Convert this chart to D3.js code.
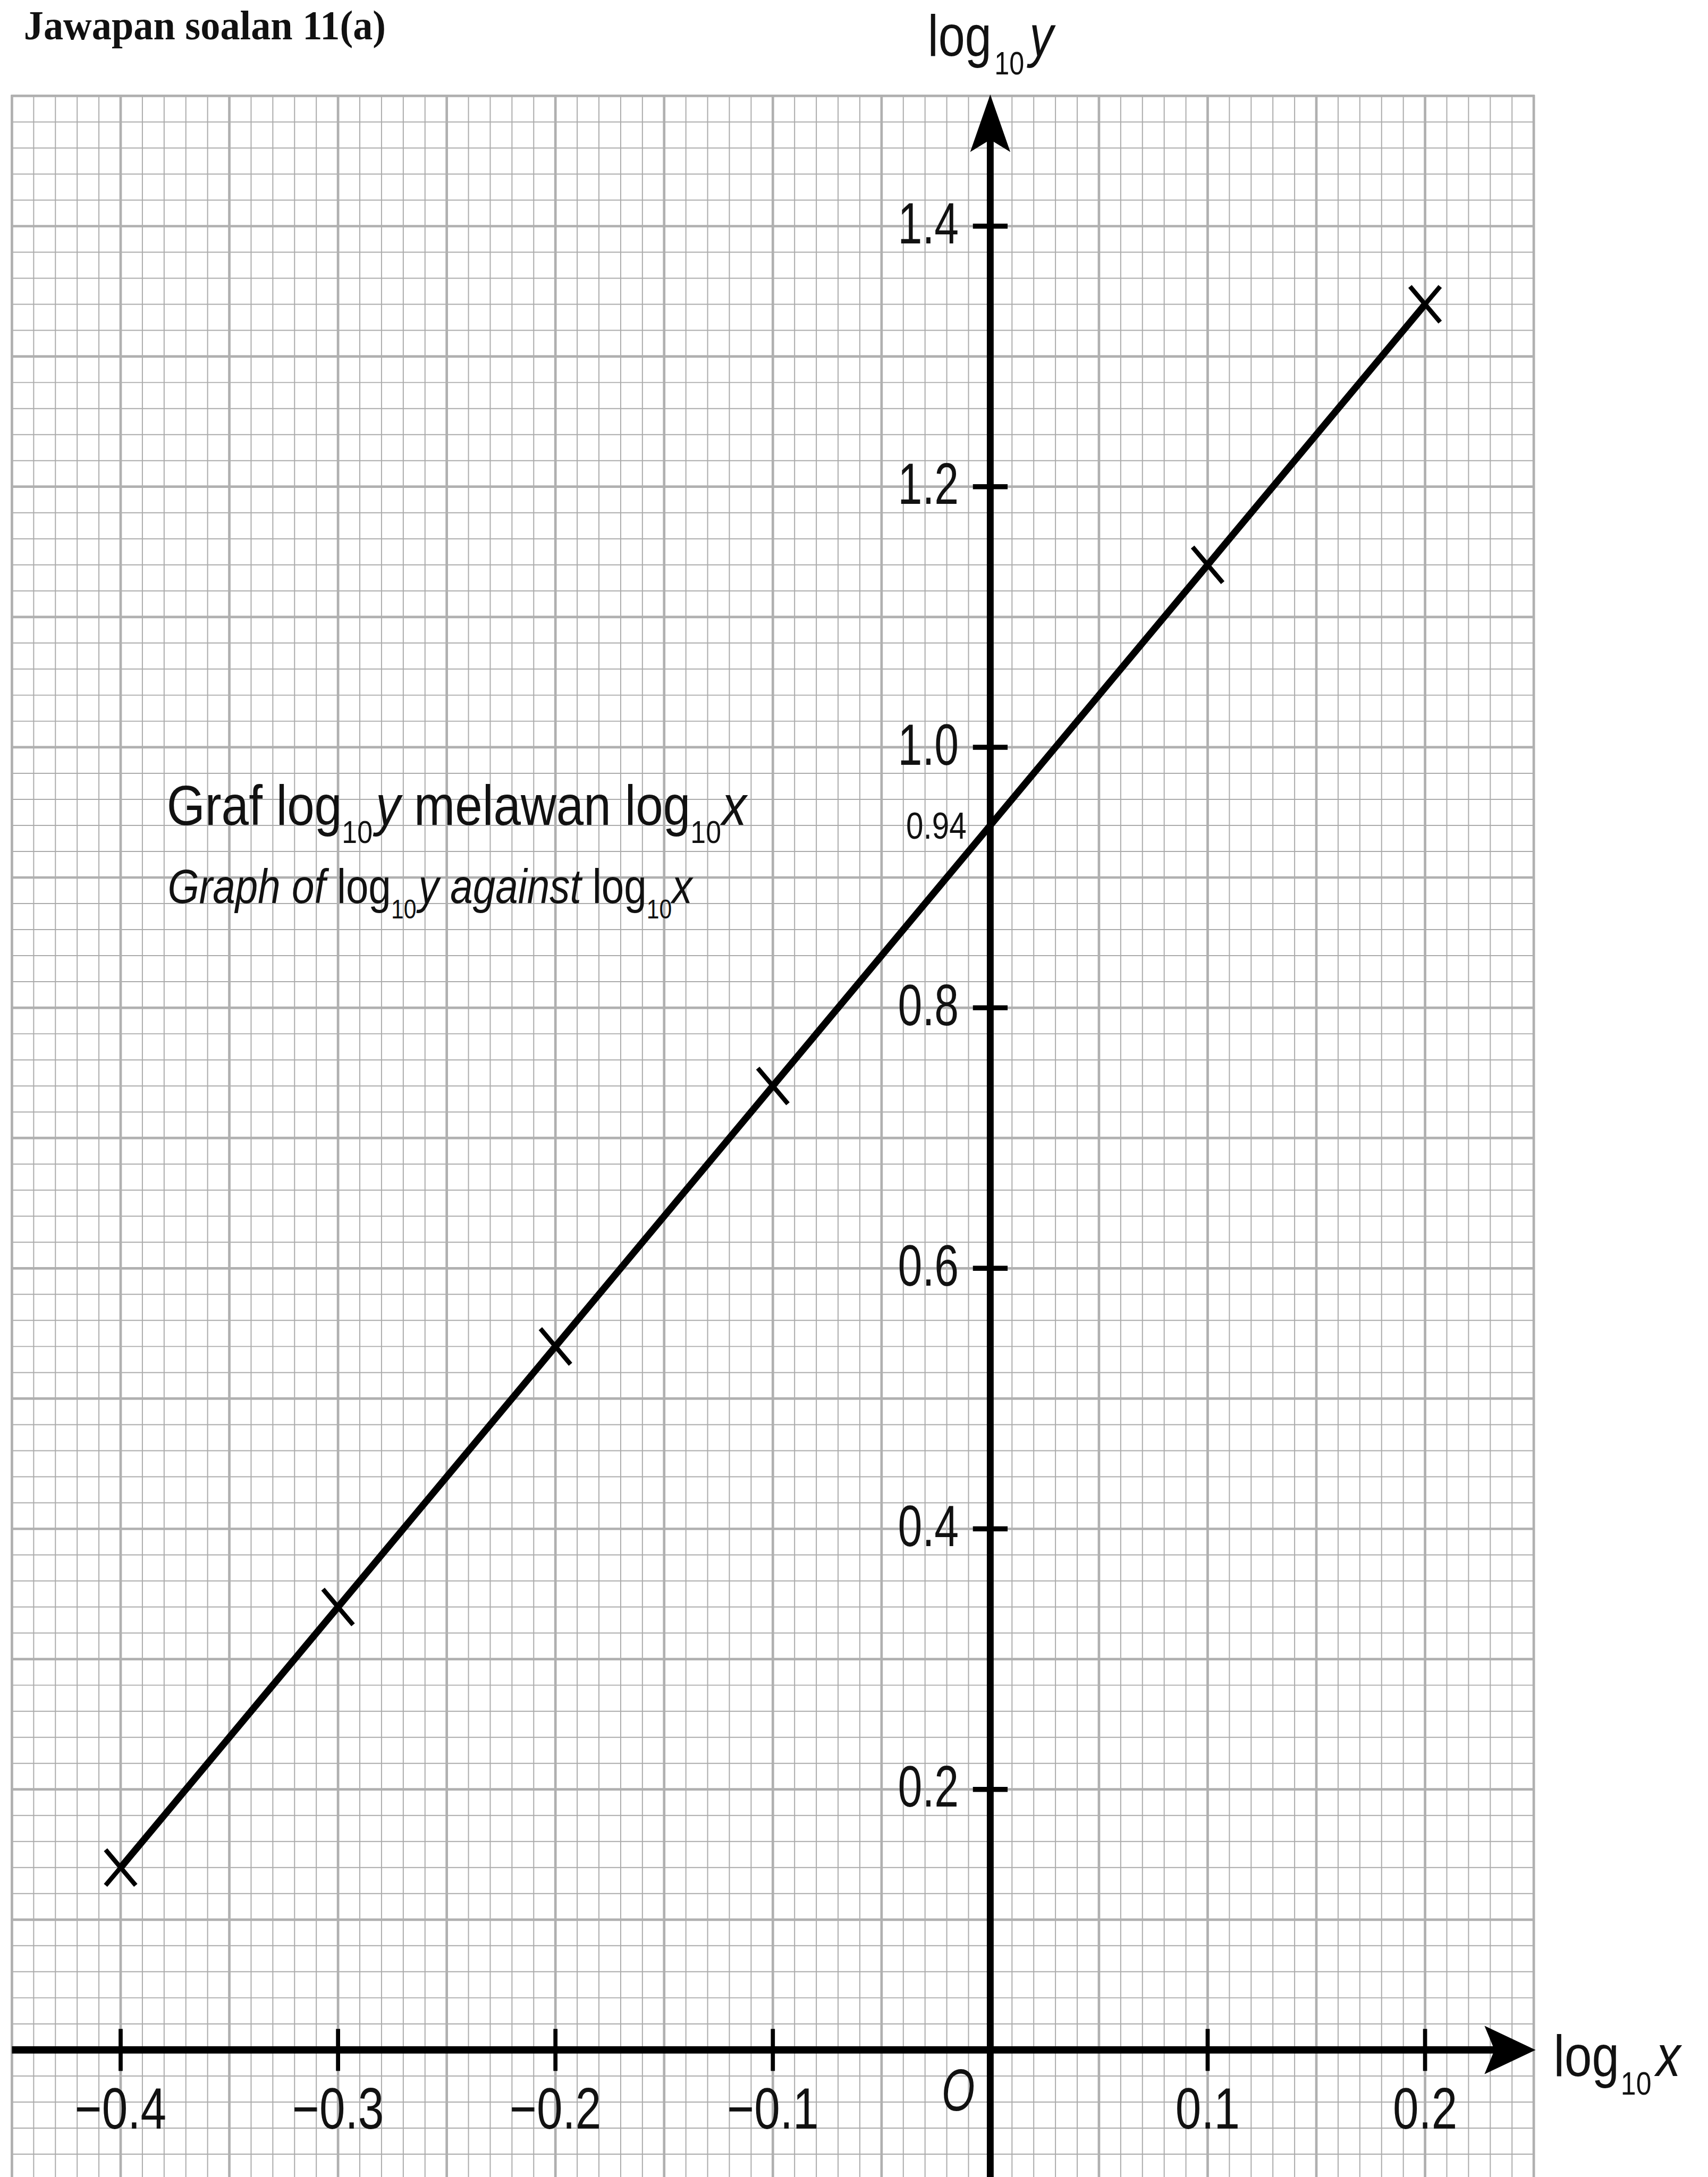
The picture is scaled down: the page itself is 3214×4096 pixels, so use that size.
<!DOCTYPE html>
<html>
<head>
<meta charset="utf-8">
<script src="https://cdn.jsdelivr.net/npm/d3@7"></script>
<style>
    body { margin: 0; background: #fff; overflow: hidden; }
    svg { display: block; }
    text { font-family: "Liberation Sans", Arial, sans-serif; fill: #111; white-space: pre; }
</style>
</head>
<body>
<div id="chart"></div>
<script>
// values
let pointX = [-0.4, -0.3, -0.2, -0.1, 0.1, 0.2];
let pointY = [0.14, 0.34, 0.54, 0.74, 1.14, 1.34];

let xTicks = [-0.4, -0.3, -0.2, -0.1, 0.1, 0.2];
let xTickLabels = ["\u22120.4", "\u22120.3", "\u22120.2", "\u22120.1", "0.1", "0.2"];
let yTicks = [0.2, 0.4, 0.6, 0.8, 1.0, 1.2, 1.4];
let yTickLabels = ["0.2", "0.4", "0.6", "0.8", "1.0", "1.2", "1.4"];

let intercept = 0.94;
let interceptLabel = "0.94";

let xExtent = [-0.45, 0.25];
let yExtent = [-0.1, 1.5];

// everything below is drawn in reference pixels, the viewBox shrinks it to the window
let W = 3741, H = 4768;

let svg = d3.select("#chart").append("svg")
    .attr("width", 3214)
    .attr("height", 4096)
    .attr("viewBox", "0 0 " + W + " " + H);

svg.append("rect").attr("width", W).attr("height", H).attr("fill", "#fff");

let x = d3.scaleLinear().domain(xExtent).range([26, 3359.5]);
let y = d3.scaleLinear().domain(yExtent).range([4775, 210]);

// graph paper: 0.01 by 0.02 squares, heavier every fifth line
let vLines = d3.range(71).map(i => ({v: xExtent[0] + i * 0.01, major: i % 5 === 0}));
let hLines = d3.range(81).map(i => ({v: yExtent[0] + i * 0.02, major: i % 5 === 0}));

let grid = svg.append("g").attr("class", "grid");

grid.selectAll("line.v-minor")
    .data(vLines.filter(d => !d.major))
    .enter().append("line")
    .attr("class", "v-minor")
    .attr("x1", d => x(d.v)).attr("x2", d => x(d.v))
    .attr("y1", y(yExtent[1])).attr("y2", y(yExtent[0]))
    .style("stroke", "#ababab")
    .style("stroke-width", 2.3);

grid.selectAll("line.h-minor")
    .data(hLines.filter(d => !d.major))
    .enter().append("line")
    .attr("class", "h-minor")
    .attr("y1", d => y(d.v)).attr("y2", d => y(d.v))
    .attr("x1", x(xExtent[0])).attr("x2", x(xExtent[1]))
    .style("stroke", "#ababab")
    .style("stroke-width", 2.3);

grid.selectAll("line.v-major")
    .data(vLines.filter(d => d.major))
    .enter().append("line")
    .attr("class", "v-major")
    .attr("x1", d => x(d.v)).attr("x2", d => x(d.v))
    .attr("y1", y(yExtent[1]) - 2).attr("y2", y(yExtent[0]))
    .style("stroke", "#b0b0b0")
    .style("stroke-width", 5.5);

grid.selectAll("line.h-major")
    .data(hLines.filter(d => d.major))
    .enter().append("line")
    .attr("class", "h-major")
    .attr("y1", d => y(d.v)).attr("y2", d => y(d.v))
    .attr("x1", x(xExtent[0]) - 2).attr("x2", x(xExtent[1]) + 2)
    .style("stroke", "#b0b0b0")
    .style("stroke-width", 5.5);

// text helper: parts may be subscripts or italic, the whole run is squeezed horizontally
function addText(parent, o) {
    let size = o.size;
    let g = parent.append("g");
    let t = g.append("text")
        .attr("text-anchor", o.anchor || "start")
        .style("font-size", size + "px")
        .style("font-family", o.family || null)
        .style("font-weight", o.weight || null)
        .style("font-style", o.italic ? "italic" : null);

    let shifted = false;
    (o.parts || [{t: o.text}]).forEach(function(p) {
        let s = t.append("tspan").text(p.t);
        if (p.sub) {
            s.style("font-size", (size * 0.56) + "px").attr("dy", size * 0.32);
            if (p.dx) s.attr("dx", p.dx);
            shifted = true;
        } else {
            if (shifted) s.attr("dy", -size * 0.32);
            if (p.dx) s.attr("dx", p.dx);
            shifted = false;
        }
        if (p.it) s.style("font-style", "italic");
    });

    let sx = o.scaleX || 1;
    if (o.width) sx = o.width / t.node().getBBox().width;
    g.attr("transform", "translate(" + o.x + "," + o.y + ") scale(" + sx + ",1)");
    return g;
}

// fitted line and the plotted crosses
let lineGen = d3.line()
    .x((d, i) => x(pointX[i]))
    .y((d, i) => y(pointY[i]));

svg.append("path")
    .datum(pointY)
    .attr("d", lineGen)
    .style("fill", "none")
    .style("stroke", "#000")
    .style("stroke-width", 15);

svg.selectAll("path.cross")
    .data(pointY)
    .enter().append("path")
    .attr("class", "cross")
    .attr("transform", (d, i) => "translate(" + x(pointX[i]) + "," + y(d) + ")")
    .attr("d", "M-33,-39L33,39M-33,39L33,-39")
    .style("stroke", "#000")
    .style("stroke-width", 10)
    .style("fill", "none");

// axes
let x0 = x(0), y0 = y(0);

svg.append("line")
    .attr("x1", x(xExtent[0])).attr("x2", x(xExtent[1]) - 80)
    .attr("y1", y0).attr("y2", y0)
    .style("stroke", "#000").style("stroke-width", 16);

svg.append("path")
    .attr("transform", "translate(" + (x(xExtent[1]) + 4) + "," + y0 + ")")
    .attr("d", "M0,0L-112,-53L-90,0L-112,53Z")
    .style("fill", "#000");

svg.append("line")
    .attr("x1", x0).attr("x2", x0)
    .attr("y1", H + 10).attr("y2", y(yExtent[1]) + 95)
    .style("stroke", "#000").style("stroke-width", 15);

svg.append("path")
    .attr("transform", "translate(" + x0 + "," + (y(yExtent[1]) - 3) + ")")
    .attr("d", "M0,0L44,126L0,99L-44,126Z")
    .style("fill", "#000");

svg.selectAll("line.y-tick")
    .data(yTicks)
    .enter().append("line")
    .attr("class", "y-tick")
    .attr("x1", x0 - 38).attr("x2", x0 + 38)
    .attr("y1", d => y(d)).attr("y2", d => y(d))
    .style("stroke", "#000").style("stroke-width", 11);

svg.selectAll("line.x-tick")
    .data(xTicks)
    .enter().append("line")
    .attr("class", "x-tick")
    .attr("x1", d => x(d)).attr("x2", d => x(d))
    .attr("y1", y0 - 46).attr("y2", y0 + 46)
    .style("stroke", "#000").style("stroke-width", 9);

yTicks.forEach(function(v, i) {
    addText(svg, {x: x0 - 69, y: y(v) + 38, anchor: "end", size: 127, scaleX: 0.755, text: yTickLabels[i]});
});

xTicks.forEach(function(v, i) {
    addText(svg, {x: x(v), y: 4662, anchor: "middle", size: 127, scaleX: 0.8, text: xTickLabels[i]});
});

addText(svg, {x: x0 - 34, y: 4623, anchor: "end", size: 130, scaleX: 0.72, italic: true, text: "O"});

addText(svg, {x: x0 - 52, y: y(intercept) + 29, anchor: "end", size: 81, scaleX: 0.84, text: interceptLabel});

// axis titles
addText(svg, {x: 2032, y: 122, size: 128, width: 281,
    parts: [{t: "log"}, {t: "10", sub: true, dx: 8}, {t: "y", it: true, dx: 14}]});

addText(svg, {x: 3403, y: 4547, size: 128, width: 282,
    parts: [{t: "log"}, {t: "10", sub: true, dx: 4}, {t: "x", it: true, dx: 12}]});

// graph caption
addText(svg, {x: 365, y: 1807, size: 124, width: 1274,
    parts: [{t: "Graf log"}, {t: "10", sub: true}, {t: "y", it: true, dx: 8}, {t: " melawan log"},
            {t: "10", sub: true}, {t: "x", it: true, dx: 2}]});

addText(svg, {x: 367, y: 1978, size: 105, width: 1152,
    parts: [{t: "Graph of ", it: true}, {t: "log"}, {t: "10", sub: true}, {t: "y against ", it: true, dx: 6},
            {t: "log"}, {t: "10", sub: true}, {t: "x", it: true}]});

// heading above the paper
addText(svg, {x: 52, y: 86, size: 92, width: 793, weight: "bold",
    family: "'Liberation Serif', 'Times New Roman', serif", text: "Jawapan soalan 11(a)"});
</script>
</body>
</html>
